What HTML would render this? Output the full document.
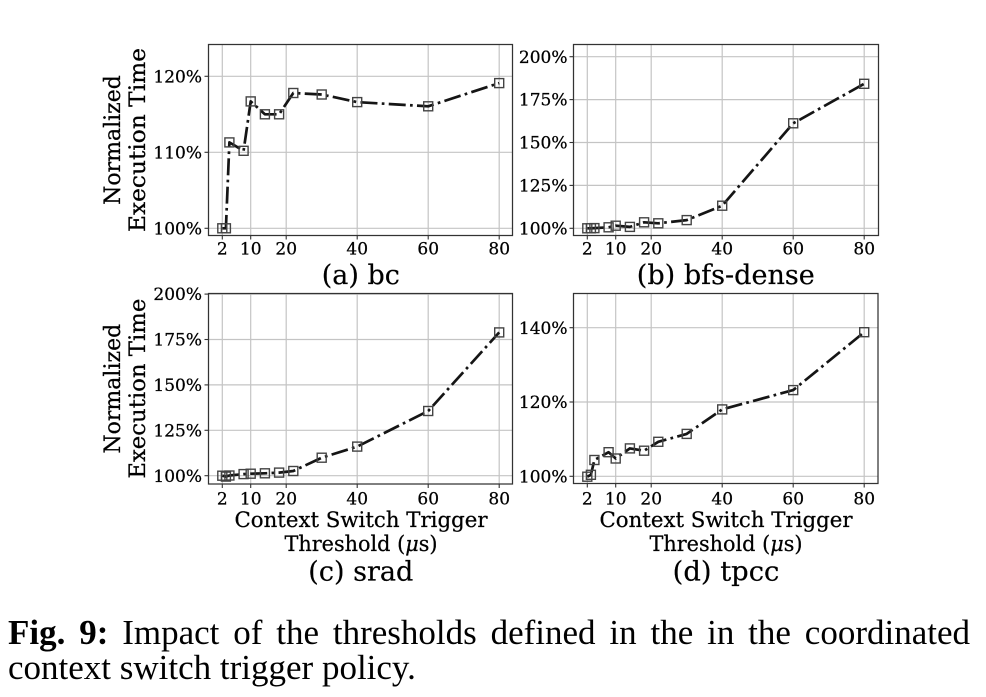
<!DOCTYPE html>
<html>
<head>
<meta charset="utf-8">
<style>
  html, body { margin:0; padding:0; background:#fff; }
  body { width:986px; height:697px; overflow:hidden; position:relative; }
  svg { position:absolute; left:0; top:0; }
  .cap { position:absolute; left:8px; font-family:"Liberation Serif", "Times New Roman", serif; font-size:35px; line-height:35px; color:#000; white-space:nowrap; }
  .l1 { top:614.7px; width:962px; text-align:justify; text-align-last:justify; white-space:normal; }
  .l2 { top:649.7px; }
</style>
</head>
<body>
<svg width="986" height="697" viewBox="0 0 986 697" xmlns="http://www.w3.org/2000/svg" font-family="'DejaVu Serif', 'Liberation Serif', serif">
  <!-- ============ GRIDS ============ -->
  <g stroke="#c4c4c4" stroke-width="1.2" fill="none">
    <!-- (a) -->
    <line x1="222.3" y1="44.5" x2="222.3" y2="235.5"/>
    <line x1="250.7" y1="44.5" x2="250.7" y2="235.5"/>
    <line x1="286.2" y1="44.5" x2="286.2" y2="235.5"/>
    <line x1="357.2" y1="44.5" x2="357.2" y2="235.5"/>
    <line x1="428.2" y1="44.5" x2="428.2" y2="235.5"/>
    <line x1="499.2" y1="44.5" x2="499.2" y2="235.5"/>
    <line x1="208.5" y1="228.3" x2="512.5" y2="228.3"/>
    <line x1="208.5" y1="152.3" x2="512.5" y2="152.3"/>
    <line x1="208.5" y1="76.3" x2="512.5" y2="76.3"/>
    <!-- (b) -->
    <line x1="587.3" y1="44.5" x2="587.3" y2="235.5"/>
    <line x1="615.7" y1="44.5" x2="615.7" y2="235.5"/>
    <line x1="651.2" y1="44.5" x2="651.2" y2="235.5"/>
    <line x1="722.2" y1="44.5" x2="722.2" y2="235.5"/>
    <line x1="793.2" y1="44.5" x2="793.2" y2="235.5"/>
    <line x1="864.2" y1="44.5" x2="864.2" y2="235.5"/>
    <line x1="573.5" y1="228.3" x2="878.5" y2="228.3"/>
    <line x1="573.5" y1="185.4" x2="878.5" y2="185.4"/>
    <line x1="573.5" y1="142.5" x2="878.5" y2="142.5"/>
    <line x1="573.5" y1="99.6" x2="878.5" y2="99.6"/>
    <line x1="573.5" y1="56.7" x2="878.5" y2="56.7"/>
    <!-- (c) -->
    <line x1="222.3" y1="293.5" x2="222.3" y2="484"/>
    <line x1="250.7" y1="293.5" x2="250.7" y2="484"/>
    <line x1="286.2" y1="293.5" x2="286.2" y2="484"/>
    <line x1="357.2" y1="293.5" x2="357.2" y2="484"/>
    <line x1="428.2" y1="293.5" x2="428.2" y2="484"/>
    <line x1="499.2" y1="293.5" x2="499.2" y2="484"/>
    <line x1="208.5" y1="475.7" x2="512.5" y2="475.7"/>
    <line x1="208.5" y1="430.3" x2="512.5" y2="430.3"/>
    <line x1="208.5" y1="384.9" x2="512.5" y2="384.9"/>
    <line x1="208.5" y1="339.5" x2="512.5" y2="339.5"/>
    <line x1="208.5" y1="294.1" x2="512.5" y2="294.1"/>
    <!-- (d) -->
    <line x1="587.3" y1="293.5" x2="587.3" y2="483.5"/>
    <line x1="615.7" y1="293.5" x2="615.7" y2="483.5"/>
    <line x1="651.2" y1="293.5" x2="651.2" y2="483.5"/>
    <line x1="722.2" y1="293.5" x2="722.2" y2="483.5"/>
    <line x1="793.2" y1="293.5" x2="793.2" y2="483.5"/>
    <line x1="864.2" y1="293.5" x2="864.2" y2="483.5"/>
    <line x1="573.5" y1="476.3" x2="878" y2="476.3"/>
    <line x1="573.5" y1="402.0" x2="878" y2="402.0"/>
    <line x1="573.5" y1="327.7" x2="878" y2="327.7"/>
  </g>

  <!-- ============ SERIES LINES ============ -->
  <g stroke="#151515" stroke-width="2.7" fill="none" stroke-dasharray="17 4.3 2.7 4.3" stroke-linejoin="round">
    <polyline points="222.3,228.3 225.9,228.3 229.4,142.4 243.6,150.8 250.7,101.4 264.9,114.3 279.1,114.3 293.3,93.0 321.7,94.5 357.2,102.1 428.2,106.3 499.2,83.1"/>
    <polyline points="587.3,228.3 590.9,228.3 594.4,228.1 608.6,227.3 615.7,225.7 629.9,226.9 644.1,222.3 658.3,223.3 686.7,220.1 722.2,205.7 793.2,123.3 864.2,83.8"/>
    <polyline points="222.3,475.7 225.9,476.6 229.4,475.5 243.6,474.1 250.7,473.7 264.9,473.3 279.1,472.6 293.3,471.0 321.7,457.7 357.2,446.6 428.2,411.0 499.2,332.4"/>
    <polyline points="587.3,476.7 590.9,474.8 594.4,460.0 608.6,452.2 615.7,458.5 629.9,448.4 644.1,450.7 658.3,441.8 686.7,433.9 722.2,409.4 793.2,390.1 864.2,332.2"/>
  </g>

  <!-- ============ MARKERS ============ -->
  <g stroke="#444" stroke-width="1.4" fill="none">
    <!-- (a) -->
    <rect x="217.8" y="223.8" width="9" height="9"/>
    <rect x="221.4" y="223.8" width="9" height="9"/>
    <rect x="224.9" y="137.9" width="9" height="9"/>
    <rect x="239.1" y="146.3" width="9" height="9"/>
    <rect x="246.2" y="96.9" width="9" height="9"/>
    <rect x="260.4" y="109.8" width="9" height="9"/>
    <rect x="274.6" y="109.8" width="9" height="9"/>
    <rect x="288.8" y="88.5" width="9" height="9"/>
    <rect x="317.2" y="90.0" width="9" height="9"/>
    <rect x="352.7" y="97.6" width="9" height="9"/>
    <rect x="423.7" y="101.8" width="9" height="9"/>
    <rect x="494.7" y="78.6" width="9" height="9"/>
    <!-- (b) -->
    <rect x="582.8" y="223.8" width="9" height="9"/>
    <rect x="586.4" y="223.8" width="9" height="9"/>
    <rect x="589.9" y="223.6" width="9" height="9"/>
    <rect x="604.1" y="222.8" width="9" height="9"/>
    <rect x="611.2" y="221.2" width="9" height="9"/>
    <rect x="625.4" y="222.4" width="9" height="9"/>
    <rect x="639.6" y="217.8" width="9" height="9"/>
    <rect x="653.8" y="218.8" width="9" height="9"/>
    <rect x="682.2" y="215.6" width="9" height="9"/>
    <rect x="717.7" y="201.2" width="9" height="9"/>
    <rect x="788.7" y="118.8" width="9" height="9"/>
    <rect x="859.7" y="79.3" width="9" height="9"/>
    <!-- (c) -->
    <rect x="217.8" y="471.2" width="9" height="9"/>
    <rect x="221.4" y="472.1" width="9" height="9"/>
    <rect x="224.9" y="471.0" width="9" height="9"/>
    <rect x="239.1" y="469.6" width="9" height="9"/>
    <rect x="246.2" y="469.2" width="9" height="9"/>
    <rect x="260.4" y="468.8" width="9" height="9"/>
    <rect x="274.6" y="468.1" width="9" height="9"/>
    <rect x="288.8" y="466.5" width="9" height="9"/>
    <rect x="317.2" y="453.2" width="9" height="9"/>
    <rect x="352.7" y="442.1" width="9" height="9"/>
    <rect x="423.7" y="406.5" width="9" height="9"/>
    <rect x="494.7" y="327.9" width="9" height="9"/>
    <!-- (d) -->
    <rect x="582.8" y="472.2" width="9" height="9"/>
    <rect x="586.4" y="470.3" width="9" height="9"/>
    <rect x="589.9" y="455.5" width="9" height="9"/>
    <rect x="604.1" y="447.7" width="9" height="9"/>
    <rect x="611.2" y="454.0" width="9" height="9"/>
    <rect x="625.4" y="443.9" width="9" height="9"/>
    <rect x="639.6" y="446.2" width="9" height="9"/>
    <rect x="653.8" y="437.3" width="9" height="9"/>
    <rect x="682.2" y="429.4" width="9" height="9"/>
    <rect x="717.7" y="404.9" width="9" height="9"/>
    <rect x="788.7" y="385.6" width="9" height="9"/>
    <rect x="859.7" y="327.7" width="9" height="9"/>
  </g>

  <!-- ============ FRAMES ============ -->
  <g stroke="#333" stroke-width="1.25" fill="none">
    <rect x="208.5" y="44.5" width="304" height="191"/>
    <rect x="573.5" y="44.5" width="305" height="191"/>
    <rect x="208.5" y="293.5" width="304" height="190.5"/>
    <rect x="573.5" y="293.5" width="304.5" height="190"/>
  </g>

  <!-- ============ TICK MARKS ============ -->
  <g stroke="#333" stroke-width="1.1">
    <line x1="222.3" y1="235.5" x2="222.3" y2="239.5"/><line x1="250.7" y1="235.5" x2="250.7" y2="239.5"/>
    <line x1="286.2" y1="235.5" x2="286.2" y2="239.5"/><line x1="357.2" y1="235.5" x2="357.2" y2="239.5"/>
    <line x1="428.2" y1="235.5" x2="428.2" y2="239.5"/><line x1="499.2" y1="235.5" x2="499.2" y2="239.5"/>
    <line x1="204.5" y1="228.3" x2="208.5" y2="228.3"/><line x1="204.5" y1="152.3" x2="208.5" y2="152.3"/>
    <line x1="204.5" y1="76.3" x2="208.5" y2="76.3"/>
    <line x1="587.3" y1="235.5" x2="587.3" y2="239.5"/><line x1="615.7" y1="235.5" x2="615.7" y2="239.5"/>
    <line x1="651.2" y1="235.5" x2="651.2" y2="239.5"/><line x1="722.2" y1="235.5" x2="722.2" y2="239.5"/>
    <line x1="793.2" y1="235.5" x2="793.2" y2="239.5"/><line x1="864.2" y1="235.5" x2="864.2" y2="239.5"/>
    <line x1="569.5" y1="228.3" x2="573.5" y2="228.3"/><line x1="569.5" y1="185.4" x2="573.5" y2="185.4"/>
    <line x1="569.5" y1="142.5" x2="573.5" y2="142.5"/><line x1="569.5" y1="99.6" x2="573.5" y2="99.6"/>
    <line x1="569.5" y1="56.7" x2="573.5" y2="56.7"/>
    <line x1="222.3" y1="484" x2="222.3" y2="488"/><line x1="250.7" y1="484" x2="250.7" y2="488"/>
    <line x1="286.2" y1="484" x2="286.2" y2="488"/><line x1="357.2" y1="484" x2="357.2" y2="488"/>
    <line x1="428.2" y1="484" x2="428.2" y2="488"/><line x1="499.2" y1="484" x2="499.2" y2="488"/>
    <line x1="204.5" y1="475.7" x2="208.5" y2="475.7"/><line x1="204.5" y1="430.3" x2="208.5" y2="430.3"/>
    <line x1="204.5" y1="384.9" x2="208.5" y2="384.9"/><line x1="204.5" y1="339.5" x2="208.5" y2="339.5"/>
    <line x1="204.5" y1="294.1" x2="208.5" y2="294.1"/>
    <line x1="587.3" y1="483.5" x2="587.3" y2="487.5"/><line x1="615.7" y1="483.5" x2="615.7" y2="487.5"/>
    <line x1="651.2" y1="483.5" x2="651.2" y2="487.5"/><line x1="722.2" y1="483.5" x2="722.2" y2="487.5"/>
    <line x1="793.2" y1="483.5" x2="793.2" y2="487.5"/><line x1="864.2" y1="483.5" x2="864.2" y2="487.5"/>
    <line x1="569.5" y1="476.3" x2="573.5" y2="476.3"/><line x1="569.5" y1="402.0" x2="573.5" y2="402.0"/>
    <line x1="569.5" y1="327.7" x2="573.5" y2="327.7"/>
  </g>

  <!-- ============ TICK LABELS ============ -->
  <g font-size="17" fill="#000" stroke="#000" stroke-width="0.25">
    <g text-anchor="middle">
      <text x="222.3" y="254.5">2</text><text x="250.7" y="254.5">10</text><text x="286.2" y="254.5">20</text>
      <text x="357.2" y="254.5">40</text><text x="428.2" y="254.5">60</text><text x="499.2" y="254.5">80</text>
      <text x="587.3" y="254.5">2</text><text x="615.7" y="254.5">10</text><text x="651.2" y="254.5">20</text>
      <text x="722.2" y="254.5">40</text><text x="793.2" y="254.5">60</text><text x="864.2" y="254.5">80</text>
      <text x="222.3" y="504.5">2</text><text x="250.7" y="504.5">10</text><text x="286.2" y="504.5">20</text>
      <text x="357.2" y="504.5">40</text><text x="428.2" y="504.5">60</text><text x="499.2" y="504.5">80</text>
      <text x="587.3" y="504.5">2</text><text x="615.7" y="504.5">10</text><text x="651.2" y="504.5">20</text>
      <text x="722.2" y="504.5">40</text><text x="793.2" y="504.5">60</text><text x="864.2" y="504.5">80</text>
    </g>
    <g text-anchor="end">
      <text x="202" y="234.4">100%</text><text x="202" y="158.4">110%</text><text x="202" y="82.4">120%</text>
      <text x="567.5" y="234.4">100%</text><text x="567.5" y="191.5">125%</text><text x="567.5" y="148.6">150%</text>
      <text x="567.5" y="105.7">175%</text><text x="567.5" y="62.8">200%</text>
      <text x="202" y="481.8">100%</text><text x="202" y="436.4">125%</text><text x="202" y="391.0">150%</text>
      <text x="202" y="345.6">175%</text><text x="202" y="300.2">200%</text>
      <text x="567.5" y="482.4">100%</text><text x="567.5" y="408.1">120%</text><text x="567.5" y="333.8">140%</text>
    </g>
  </g>

  <!-- ============ AXIS LABELS ============ -->
  <g font-size="22" fill="#000" stroke="#000" stroke-width="0.25" text-anchor="middle">
    <text transform="translate(120,140) rotate(-90)">Normalized</text>
    <text transform="translate(145,140) rotate(-90)" textLength="184" lengthAdjust="spacingAndGlyphs">Execution Time</text>
    <text transform="translate(120,388.7) rotate(-90)">Normalized</text>
    <text transform="translate(145,388.7) rotate(-90)" textLength="180" lengthAdjust="spacingAndGlyphs">Execution Time</text>
  </g>
  <g font-size="21" fill="#000" stroke="#000" stroke-width="0.25" text-anchor="middle">
    <text x="361" y="527" textLength="253" lengthAdjust="spacingAndGlyphs">Context Switch Trigger</text>
    <text x="361" y="551" textLength="153" lengthAdjust="spacingAndGlyphs">Threshold (<tspan font-style="italic">μ</tspan>s)</text>
    <text x="726" y="527" textLength="253" lengthAdjust="spacingAndGlyphs">Context Switch Trigger</text>
    <text x="726" y="551" textLength="153" lengthAdjust="spacingAndGlyphs">Threshold (<tspan font-style="italic">μ</tspan>s)</text>
  </g>

  <!-- ============ SUBPLOT TITLES ============ -->
  <g font-size="27" fill="#000" stroke="#000" stroke-width="0.2" text-anchor="middle">
    <text x="360.8" y="284" textLength="78" lengthAdjust="spacingAndGlyphs">(a) bc</text>
    <text x="725.8" y="284" textLength="178" lengthAdjust="spacingAndGlyphs">(b) bfs-dense</text>
    <text x="360.8" y="580.5" textLength="105" lengthAdjust="spacingAndGlyphs">(c) srad</text>
    <text x="726" y="580.5" textLength="106.7" lengthAdjust="spacingAndGlyphs">(d) tpcc</text>
  </g>
</svg>

<div class="cap l1"><b>Fig. 9:</b> Impact of the thresholds defined in the in the coordinated</div>
<div class="cap l2">context switch trigger policy.</div>
</body>
</html>
